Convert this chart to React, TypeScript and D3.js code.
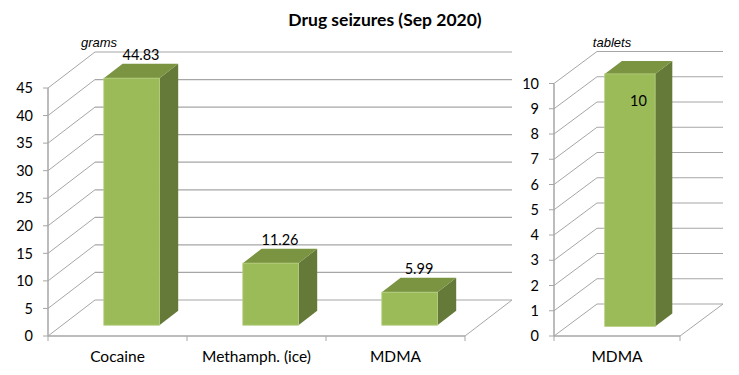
import React, { useEffect, useRef } from 'react';
import * as d3 from 'd3';

// grams panel
const gramCategories = ['Cocaine', 'Methamph. (ice)', 'MDMA'];
const gramValues = [44.83, 11.26, 5.99];
const gramTicks = [0, 5, 10, 15, 20, 25, 30, 35, 40, 45];

// tablets panel
const tabletCategories = ['MDMA'];
const tabletValues = [10];
const tabletTicks = [0, 1, 2, 3, 4, 5, 6, 7, 8, 9, 10];

const FRONT = '#9bbb59';
const TOP = '#7a9441';
const SIDE = '#657a38';
const GRID = '#a6a6a6';
const FONT = 'Lato, "Liberation Sans", sans-serif';

const App = () => {
  const svgRef = useRef<SVGSVGElement>(null);

  useEffect(() => {
    const svg = d3.select(svgRef.current);
    svg.selectAll('*').remove();

    svg.append('text')
      .attr('x', 385)
      .attr('y', 26)
      .attr('text-anchor', 'middle')
      .style('font-family', FONT)
      .style('font-weight', 'bold')
      .style('font-size', '17.5px')
      .style('fill', '#000')
      .text('Drug seizures (Sep 2020)');

    const drawPanel = (cfg) => {
      const { categories, values, ticks, left, right, top, bottom, dx, dy, max, unit, unitX } = cfg;
      const g = svg.append('g');

      const x = d3.scaleBand().domain(categories).range([left, right]).padding(0);
      const y = d3.scaleLinear().domain([0, max]).range([bottom, top]);

      // back wall and left wall gridlines
      ticks.forEach(t => {
        g.append('line')
          .attr('x1', left).attr('y1', y(t))
          .attr('x2', left + dx).attr('y2', y(t) + dy)
          .attr('stroke', GRID).attr('stroke-width', 1);
        g.append('line')
          .attr('x1', left + dx).attr('y1', y(t) + dy)
          .attr('x2', right + dx).attr('y2', y(t) + dy)
          .attr('stroke', GRID).attr('stroke-width', 1.2);
        // tick mark
        g.append('line')
          .attr('x1', left - 5).attr('y1', y(t))
          .attr('x2', left).attr('y2', y(t))
          .attr('stroke', GRID);
        g.append('text')
          .attr('x', left - 15)
          .attr('y', y(t))
          .attr('dy', '0.36em')
          .attr('text-anchor', 'end')
          .style('font-family', FONT)
          .style('font-size', '14.5px')
          .style('fill', '#000')
          .text(t);
      });

      // floor right edge
      g.append('line')
        .attr('x1', right).attr('y1', bottom)
        .attr('x2', right + dx).attr('y2', bottom + dy)
        .attr('stroke', GRID);

      // axes
      g.append('line')
        .attr('x1', left).attr('y1', y(max))
        .attr('x2', left).attr('y2', bottom)
        .attr('stroke', GRID).attr('stroke-width', 1.5);
      g.append('line')
        .attr('x1', left).attr('y1', bottom)
        .attr('x2', right).attr('y2', bottom)
        .attr('stroke', GRID).attr('stroke-width', 1.5);
      const edges = categories.map(c => x(c)).concat([right]);
      edges.forEach(e => {
        g.append('line')
          .attr('x1', e).attr('y1', bottom)
          .attr('x2', e).attr('y2', bottom + 5)
          .attr('stroke', GRID);
      });

      // bars
      const f0 = 0.3, f1 = 0.7;
      const bw = x.bandwidth() * 0.4;
      const ddx = (f1 - f0) * dx, ddy = (f1 - f0) * dy;
      categories.forEach((c, i) => {
        const v = values[i];
        const cx = x(c) + x.bandwidth() / 2 + f0 * dx;
        const x0 = cx - bw / 2, x1 = cx + bw / 2;
        const yb = y(0) + f0 * dy;
        const yt = y(v) + f0 * dy;
        // side face
        g.append('path')
          .attr('d', `M${x1},${yb}L${x1 + ddx},${yb + ddy}L${x1 + ddx},${yt + ddy}L${x1},${yt}Z`)
          .attr('fill', SIDE);
        // top face
        g.append('path')
          .attr('d', `M${x0},${yt}L${x1},${yt}L${x1 + ddx},${yt + ddy}L${x0 + ddx},${yt + ddy}Z`)
          .attr('fill', TOP);
        // front face
        g.append('rect')
          .attr('x', x0).attr('y', yt)
          .attr('width', bw).attr('height', yb - yt)
          .attr('fill', FRONT)
          .attr('stroke', '#b5cf80').attr('stroke-width', 0.8);

        const inside = v >= max * 0.999;
        g.append('text')
          .attr('x', cx + ddx / 2)
          .attr('y', inside ? yt + 32 : yt - 18)
          .attr('text-anchor', 'middle')
          .style('font-family', FONT)
          .style('font-size', '14.5px')
          .style('fill', '#000')
          .text(v);

        g.append('text')
          .attr('x', x(c) + x.bandwidth() / 2)
          .attr('y', 362)
          .attr('text-anchor', 'middle')
          .style('font-family', FONT)
          .style('font-size', '15.5px')
          .style('fill', '#000')
          .text(c);
      });

      g.append('text')
        .attr('x', unitX)
        .attr('y', 47)
        .attr('text-anchor', 'middle')
        .style('font-family', '"Liberation Sans", Arial, sans-serif')
        .style('font-style', 'italic')
        .style('font-size', '13px')
        .style('fill', '#000')
        .text(unit);
    };

    drawPanel({
      categories: gramCategories, values: gramValues, ticks: gramTicks,
      left: 48, right: 465, top: 88, bottom: 336, dx: 47, dy: -36, max: 45,
      unit: 'grams', unitX: 99,
    });
    drawPanel({
      categories: tabletCategories, values: tabletValues, ticks: tabletTicks,
      left: 554, right: 680, top: 83.5, bottom: 336, dx: 43, dy: -32, max: 10,
      unit: 'tablets', unitX: 612,
    });
  }, []);

  return (
    <div>
      <style>{'body{margin:0;background:#fff}'}</style>
      <svg ref={svgRef} width={739} height={375} style={{ display: 'block' }}></svg>
    </div>
  );
};

export default App;
